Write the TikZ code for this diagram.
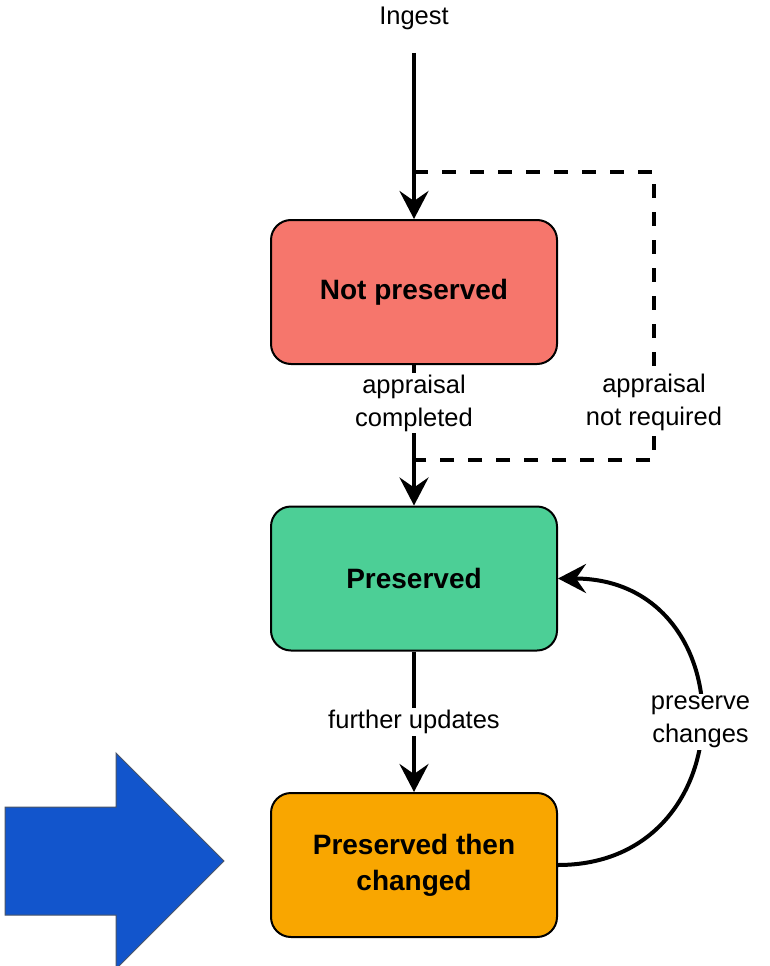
\documentclass[tikz,border=0pt]{standalone}
\usepackage{fontspec}
\setmainfont{Liberation Sans}
\usetikzlibrary{arrows.meta}
\definecolor{npred}{RGB}{246,118,108}
\definecolor{prgreen}{RGB}{76,207,150}
\definecolor{pcorange}{RGB}{249,166,0}
\definecolor{bigblue}{RGB}{18,85,204}
\definecolor{blueedge}{RGB}{74,85,104}
\begin{document}
\begin{tikzpicture}[x=1pt,y=-1pt,
  state/.style={draw=black,line width=2pt,rounded corners=20pt,minimum width=286pt,minimum height=144pt,align=center,inner sep=0pt,font=\fontsize{28}{36}\selectfont\bfseries},
  tr/.style={line width=4pt,-{Stealth[length=28pt,width=29pt,inset=10pt]}},
  dashline/.style={line width=3.5pt,dash pattern=on 14pt off 14pt},
  lbl/.style={fill=white,align=center,inner sep=2pt,font=\fontsize{25.5}{33}\selectfont}]
\fill[white] (0,0) rectangle (769,966);
\useasboundingbox (0,0) rectangle (769,966);
% Drawing states
\node[state,fill=npred] (np) at (414,292) {Not preserved};
\node[state,fill=prgreen] (pr) at (414,578.5) {Preserved};
\node[state,fill=pcorange] (pc) at (414,865) {Preserved then\\changed};
% Done with states; drawing transitions
\node[lbl,fill=none] (ingest) at (414,18) {Ingest};
\coordinate (in) at (414,53);
\coordinate (split) at (414,172);
\coordinate (ne) at (654,172);
\coordinate (se) at (654,460);
\coordinate (join) at (414,460);
\draw[tr] (in) -- (np);
\draw[tr] (np) -- node[lbl,pos=0.27] {appraisal\\completed} (pr);
\draw[dashline] (split) -- (ne) -- node[lbl,pos=0.8] {appraisal\\not required} (se) -- (join);
\draw[tr] (pr) -- node[lbl] {further updates} (pc);
\draw[tr] (pc.east) .. controls +(190,0) and +(190,0) .. node[lbl] {preserve\\changes} (pr.east);
% Done with transitions; drawing the pointer
\filldraw[fill=bigblue,draw=blueedge,line width=1pt] (5,807) -- (116,807) -- (116,753) -- (224,861) -- (116,969) -- (116,915) -- (5,915) -- cycle;
\end{tikzpicture}
\end{document}
